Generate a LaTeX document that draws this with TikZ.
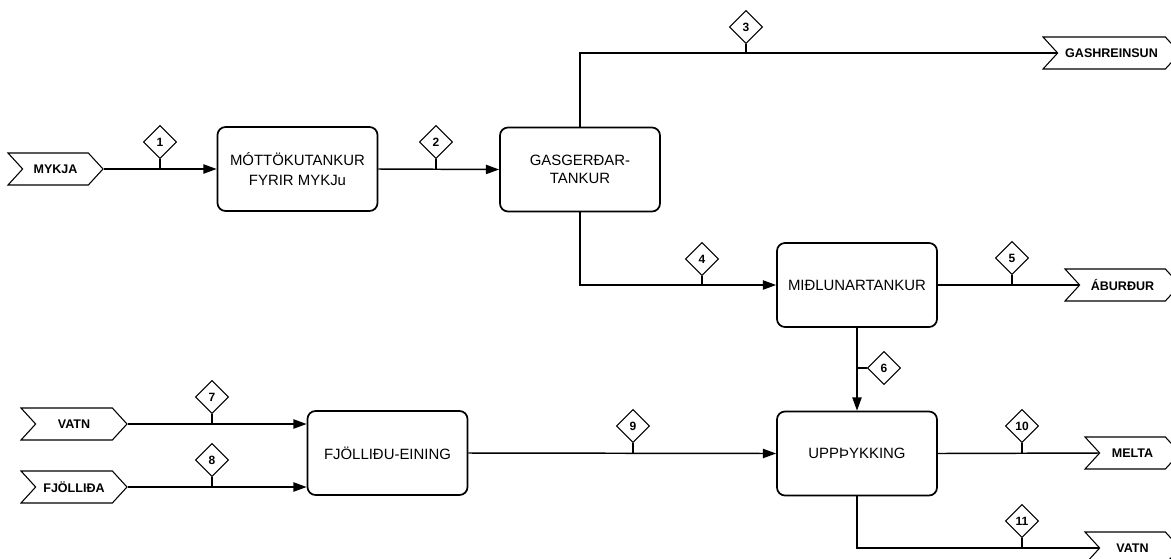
\documentclass[tikz,border=0pt]{standalone}
\usepackage{fontspec}
\setmainfont{Liberation Sans}
\usetikzlibrary{shapes.geometric,shapes.symbols,arrows.meta}

\tikzset{
  tank/.style={draw,line width=1.3pt,rounded corners=6pt,minimum width=120pt,minimum height=63pt,align=center,font=\fontsize{11.2}{13}\selectfont},
  merki/.style={draw,line width=0.8pt,shape=signal,signal from=west,signal to=east,signal pointer angle=95,minimum height=24pt,inner sep=0pt,font=\fontsize{9.4}{11}\selectfont\bfseries},
  nr/.style={draw,diamond,line width=0.8pt,minimum width=24.75pt,minimum height=24.75pt,inner sep=0pt,font=\fontsize{9}{10}\selectfont\bfseries},
  flaedi/.style={line width=1.1pt,-{Triangle[length=10pt,width=7pt]}},
  leid/.style={line width=1.1pt},
  stubbur/.style={line width=0.8pt}
}

\begin{document}
\begin{tikzpicture}[x=0.75pt,y=-0.75pt]
\useasboundingbox (0,0) rectangle (1171,558);
\clip (0,0) rectangle (1171,558);

\node[tank] (mottaka) at (297.5,169) {MÓTTÖKUTANKUR\\[2pt]FYRIR MYKJu};
\node[tank] (gasgerd) at (580,169.5) {GASGERÐAR-\\TANKUR};
\node[tank] (midlun) at (857,285) {MIÐLUNARTANKUR};
\node[tank] (uppth) at (857,453.5) {UPPÞYKKING};
\node[tank] (fjoll) at (387.5,453) {FJÖLLIÐU-EINING};

\node[merki,minimum width=71.25pt] (mykja) at (55.5,169) {MYKJA};
\node[merki,minimum width=79.5pt] (vatnin) at (74,424) {VATN};
\node[merki,minimum width=79.5pt] (fjollida) at (74,487) {FJÖLLIÐA};
\node[merki,minimum width=102.75pt] (gashr) at (1111.5,53) {GASHREINSUN};
\node[merki,minimum width=86.25pt] (aburd) at (1122.5,285) {ÁBURÐUR};
\node[merki,minimum width=71.25pt] (melta) at (1132.5,453) {MELTA};
\node[merki,minimum width=71.25pt] (vatnut) at (1132.5,548) {VATN};

\draw[flaedi] (mykja.east) -- (mottaka.west);
\draw[flaedi] (mottaka.east) -- (gasgerd.west);
\draw[leid] (gasgerd.north) |- (gashr.west);
\draw[flaedi] (gasgerd.south) |- (midlun.west);
\draw[leid] (midlun.east) -- (aburd.west);
\draw[flaedi] (midlun.south) -- (uppth.north);
\draw[flaedi] (vatnin.east) -- (vatnin.east -| fjoll.west);
\draw[flaedi] (fjollida.east) -- (fjollida.east -| fjoll.west);
\draw[flaedi] (fjoll.east) -- (uppth.west);
\draw[leid] (uppth.east) -- (melta.west);
\draw[leid] (uppth.south) |- (vatnut.west);

\node[nr] (n1) at (160,142) {1};
\node[nr] (n2) at (436,142) {2};
\node[nr] (n3) at (746,27) {3};
\node[nr] (n4) at (702,259) {4};
\node[nr] (n5) at (1012,258) {5};
\node[nr] (n6) at (884,368) {6};
\node[nr] (n7) at (212,397) {7};
\node[nr] (n8) at (212,460) {8};
\node[nr] (n9) at (633,426) {9};
\node[nr] (n10) at (1022,426) {10};
\node[nr] (n11) at (1022,521) {11};

\draw[stubbur] (n1.south) -- (n1.south |- mottaka.west);
\draw[stubbur] (n2.south) -- (n2.south |- gasgerd.west);
\draw[stubbur] (n3.south) -- (n3.south |- gashr.west);
\draw[stubbur] (n4.south) -- (n4.south |- midlun.west);
\draw[stubbur] (n5.south) -- (n5.south |- aburd.west);
\draw[stubbur] (n6.west) -- (n6.west -| midlun.south);
\draw[stubbur] (n7.south) -- (n7.south |- vatnin.east);
\draw[stubbur] (n8.south) -- (n8.south |- fjollida.east);
\draw[stubbur] (n9.south) -- (n9.south |- fjoll.east);
\draw[stubbur] (n10.south) -- (n10.south |- melta.west);
\draw[stubbur] (n11.south) -- (n11.south |- vatnut.west);
\end{tikzpicture}
\end{document}
